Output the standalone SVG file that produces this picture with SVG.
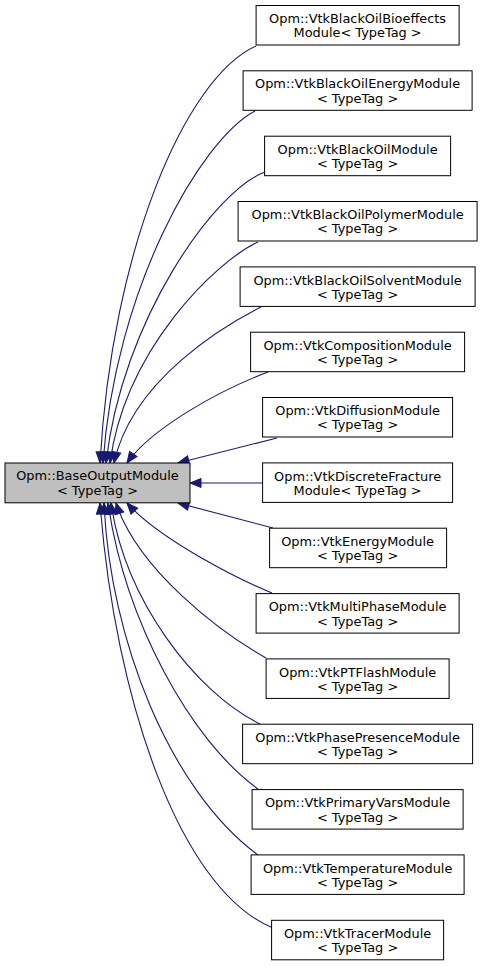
<svg xmlns="http://www.w3.org/2000/svg" width="483" height="967" viewBox="0 0 483 967">
<style>
.n rect{fill:#ffffff;stroke:#000000;stroke-width:1}
#base rect{fill:#bfbfbf}
text{font-family:"DejaVu Sans","Liberation Sans",sans-serif;font-size:12.9px;fill:#000000;text-anchor:middle}
.e path{fill:none;stroke:#191970;stroke-width:1.1}
</style>
<defs>
<marker id="ah" markerUnits="userSpaceOnUse" markerWidth="14" markerHeight="12" viewBox="-1 -1 14 12" refX="11" refY="4.5" orient="auto">
<path d="M0,0 L11,4.5 L0,9 z" fill="#191970" stroke="#191970" stroke-width="1"/>
</marker>
</defs>
<rect width="483" height="967" fill="#ffffff"/>
<g class="e" id="edges" marker-end="url(#ah)">
<path d="M256,46 C185,78 112,250 100,463" marker-end="url(#ah)"/>
<path d="M255,111 C200,140 115,290 103,463" marker-end="url(#ah)"/>
<path d="M265,172 C215,190 122,320 106,463" marker-end="url(#ah)"/>
<path d="M258,242 C215,262 125,350 110,463" marker-end="url(#ah)"/>
<path d="M261,307 C225,325 132,380 114,463" marker-end="url(#ah)"/>
<path d="M268,372 C215,392 150,430 127,463" marker-end="url(#ah)"/>
<path d="M277,438 L178,463" marker-end="url(#ah)"/>
<path d="M262,483 L190,483" marker-end="url(#ah)"/>
<path d="M273,528 L178,503" marker-end="url(#ah)"/>
<path d="M272,593 C240,580 160,540 127,503" marker-end="url(#ah)"/>
<path d="M266,658 C220,632 138,570 116,503" marker-end="url(#ah)"/>
<path d="M260,724 C195,692 125,600 111,503" marker-end="url(#ah)"/>
<path d="M258,789 C190,740 125,620 108,503" marker-end="url(#ah)"/>
<path d="M258,855 C170,790 110,640 104,503" marker-end="url(#ah)"/>
<path d="M273,928 C180,890 115,700 100,503" marker-end="url(#ah)"/>
</g>
<g class="n" id="base"><rect x="5" y="463" width="185" height="39.8"/><text x="97.5" y="480.3">Opm::BaseOutputModule</text><text x="97.5" y="494.6">&lt; TypeTag &gt;</text></g>
<g class="n" id="n0"><rect x="256.1" y="5.5" width="203" height="39.5"/><text x="357.6" y="23.1">Opm::VtkBlackOilBioeffects</text><text x="357.6" y="37.4">Module&lt; TypeTag &gt;</text></g>
<g class="n" id="n1"><rect x="243.1" y="70.8" width="229" height="39.5"/><text x="357.6" y="88.4">Opm::VtkBlackOilEnergyModule</text><text x="357.6" y="102.7">&lt; TypeTag &gt;</text></g>
<g class="n" id="n2"><rect x="264.6" y="136.2" width="186" height="39.5"/><text x="357.6" y="153.8">Opm::VtkBlackOilModule</text><text x="357.6" y="168.1">&lt; TypeTag &gt;</text></g>
<g class="n" id="n3"><rect x="238.1" y="201.5" width="239" height="39.5"/><text x="357.6" y="219.1">Opm::VtkBlackOilPolymerModule</text><text x="357.6" y="233.4">&lt; TypeTag &gt;</text></g>
<g class="n" id="n4"><rect x="240.1" y="266.9" width="235" height="39.5"/><text x="357.6" y="284.5">Opm::VtkBlackOilSolventModule</text><text x="357.6" y="298.8">&lt; TypeTag &gt;</text></g>
<g class="n" id="n5"><rect x="250.6" y="332.2" width="214" height="39.5"/><text x="357.6" y="349.8">Opm::VtkCompositionModule</text><text x="357.6" y="364.1">&lt; TypeTag &gt;</text></g>
<g class="n" id="n6"><rect x="262.6" y="397.5" width="190" height="39.5"/><text x="357.6" y="415.1">Opm::VtkDiffusionModule</text><text x="357.6" y="429.4">&lt; TypeTag &gt;</text></g>
<g class="n" id="n7"><rect x="262.6" y="462.9" width="190" height="39.5"/><text x="357.6" y="480.5">Opm::VtkDiscreteFracture</text><text x="357.6" y="494.8">Module&lt; TypeTag &gt;</text></g>
<g class="n" id="n8"><rect x="269.6" y="528.2" width="177" height="39.5"/><text x="357.6" y="545.8">Opm::VtkEnergyModule</text><text x="357.6" y="560.1">&lt; TypeTag &gt;</text></g>
<g class="n" id="n9"><rect x="256.1" y="593.6" width="203" height="39.5"/><text x="357.6" y="611.2">Opm::VtkMultiPhaseModule</text><text x="357.6" y="625.5">&lt; TypeTag &gt;</text></g>
<g class="n" id="n10"><rect x="266.1" y="658.9" width="183" height="39.5"/><text x="357.6" y="676.5">Opm::VtkPTFlashModule</text><text x="357.6" y="690.8">&lt; TypeTag &gt;</text></g>
<g class="n" id="n11"><rect x="242.6" y="724.2" width="230" height="39.5"/><text x="357.6" y="741.8">Opm::VtkPhasePresenceModule</text><text x="357.6" y="756.1">&lt; TypeTag &gt;</text></g>
<g class="n" id="n12"><rect x="252.1" y="789.6" width="211" height="39.5"/><text x="357.6" y="807.2">Opm::VtkPrimaryVarsModule</text><text x="357.6" y="821.5">&lt; TypeTag &gt;</text></g>
<g class="n" id="n13"><rect x="251.1" y="854.9" width="213" height="39.5"/><text x="357.6" y="872.5">Opm::VtkTemperatureModule</text><text x="357.6" y="886.8">&lt; TypeTag &gt;</text></g>
<g class="n" id="n14"><rect x="271.6" y="920.3" width="172" height="39.5"/><text x="357.6" y="937.9">Opm::VtkTracerModule</text><text x="357.6" y="952.2">&lt; TypeTag &gt;</text></g>
</svg>
